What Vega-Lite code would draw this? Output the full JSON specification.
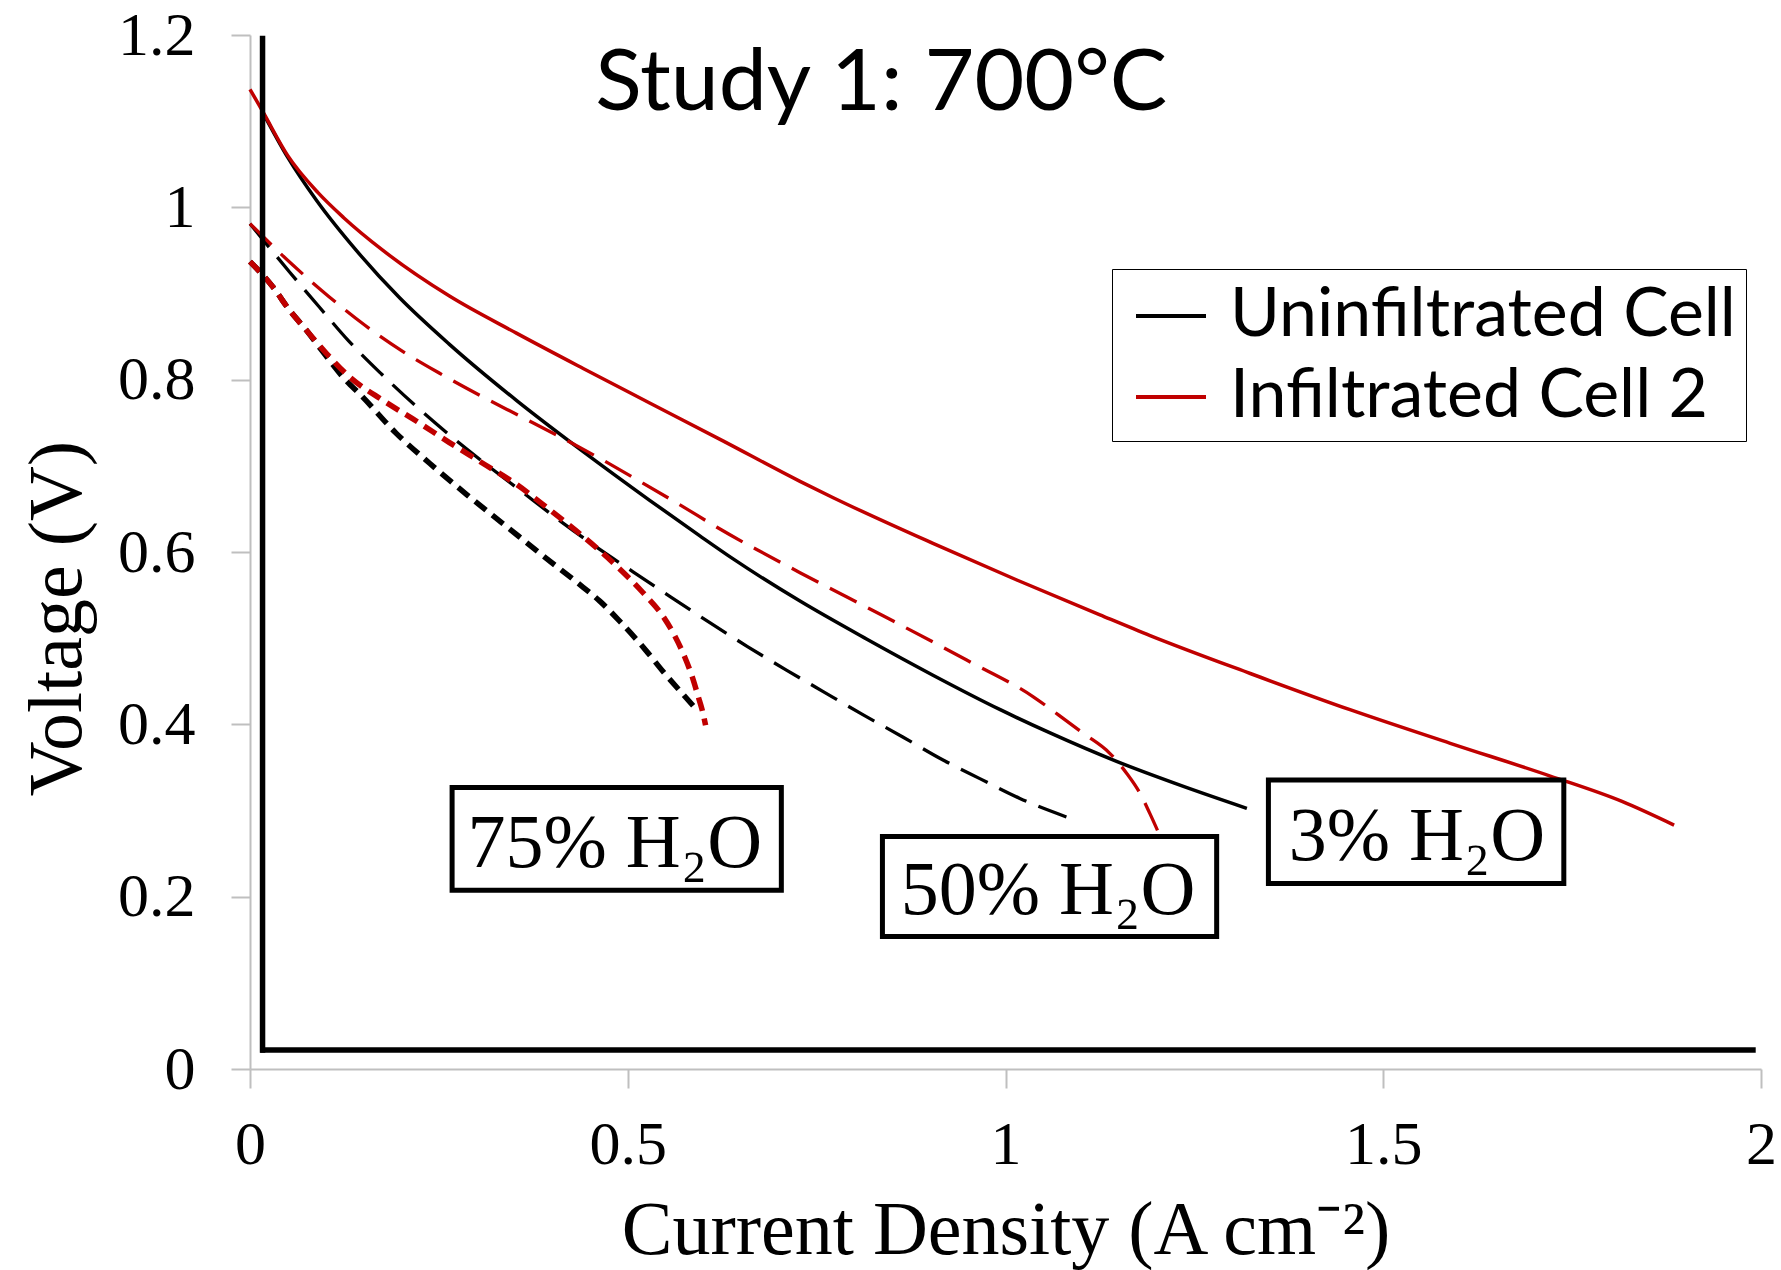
{
  "$schema": "https://vega.github.io/schema/vega-lite/v6.json",
  "width": 1511,
  "height": 1034,
  "autosize": {"type": "none"},
  "padding": {"left": 250, "top": 35, "right": 20, "bottom": 201},
  "background": "white",
  "config": {"view": {"stroke": null}, "axis": {"grid": false}},
  "datasets": {
    "curves": [
      {"cell": "Uninfiltrated Cell", "water": "3%", "i": 0, "x": 0.017, "y": 1.110},
      {"cell": "Uninfiltrated Cell", "water": "3%", "i": 1, "x": 0.05, "y": 1.058},
      {"cell": "Uninfiltrated Cell", "water": "3%", "i": 2, "x": 0.0877, "y": 1.0085},
      {"cell": "Uninfiltrated Cell", "water": "3%", "i": 3, "x": 0.1407, "y": 0.950},
      {"cell": "Uninfiltrated Cell", "water": "3%", "i": 4, "x": 0.198, "y": 0.895},
      {"cell": "Uninfiltrated Cell", "water": "3%", "i": 5, "x": 0.264, "y": 0.841},
      {"cell": "Uninfiltrated Cell", "water": "3%", "i": 6, "x": 0.3526, "y": 0.776},
      {"cell": "Uninfiltrated Cell", "water": "3%", "i": 7, "x": 0.441, "y": 0.7165},
      {"cell": "Uninfiltrated Cell", "water": "3%", "i": 8, "x": 0.529, "y": 0.660},
      {"cell": "Uninfiltrated Cell", "water": "3%", "i": 9, "x": 0.595, "y": 0.619},
      {"cell": "Uninfiltrated Cell", "water": "3%", "i": 10, "x": 0.6395, "y": 0.592},
      {"cell": "Uninfiltrated Cell", "water": "3%", "i": 11, "x": 0.728, "y": 0.543},
      {"cell": "Uninfiltrated Cell", "water": "3%", "i": 12, "x": 0.816, "y": 0.499},
      {"cell": "Uninfiltrated Cell", "water": "3%", "i": 13, "x": 0.904, "y": 0.457},
      {"cell": "Uninfiltrated Cell", "water": "3%", "i": 14, "x": 0.993, "y": 0.417},
      {"cell": "Uninfiltrated Cell", "water": "3%", "i": 15, "x": 1.059, "y": 0.390},
      {"cell": "Uninfiltrated Cell", "water": "3%", "i": 16, "x": 1.147, "y": 0.357},
      {"cell": "Uninfiltrated Cell", "water": "3%", "i": 17, "x": 1.2355, "y": 0.328},
      {"cell": "Uninfiltrated Cell", "water": "3%", "i": 18, "x": 1.3195, "y": 0.3025},

      {"cell": "Infiltrated Cell 2", "water": "3%", "i": 0, "x": 0.0, "y": 1.137},
      {"cell": "Infiltrated Cell 2", "water": "3%", "i": 1, "x": 0.017, "y": 1.111},
      {"cell": "Infiltrated Cell 2", "water": "3%", "i": 2, "x": 0.05, "y": 1.060},
      {"cell": "Infiltrated Cell 2", "water": "3%", "i": 3, "x": 0.09, "y": 1.017},
      {"cell": "Infiltrated Cell 2", "water": "3%", "i": 4, "x": 0.124, "y": 0.988},
      {"cell": "Infiltrated Cell 2", "water": "3%", "i": 5, "x": 0.176, "y": 0.950},
      {"cell": "Infiltrated Cell 2", "water": "3%", "i": 6, "x": 0.264, "y": 0.897},
      {"cell": "Infiltrated Cell 2", "water": "3%", "i": 7, "x": 0.3526, "y": 0.854},
      {"cell": "Infiltrated Cell 2", "water": "3%", "i": 8, "x": 0.441, "y": 0.813},
      {"cell": "Infiltrated Cell 2", "water": "3%", "i": 9, "x": 0.529, "y": 0.773},
      {"cell": "Infiltrated Cell 2", "water": "3%", "i": 10, "x": 0.626, "y": 0.729},
      {"cell": "Infiltrated Cell 2", "water": "3%", "i": 11, "x": 0.728, "y": 0.682},
      {"cell": "Infiltrated Cell 2", "water": "3%", "i": 12, "x": 0.772, "y": 0.663},
      {"cell": "Infiltrated Cell 2", "water": "3%", "i": 13, "x": 0.904, "y": 0.610},
      {"cell": "Infiltrated Cell 2", "water": "3%", "i": 14, "x": 1.015, "y": 0.5675},
      {"cell": "Infiltrated Cell 2", "water": "3%", "i": 15, "x": 1.125, "y": 0.527},
      {"cell": "Infiltrated Cell 2", "water": "3%", "i": 16, "x": 1.1914, "y": 0.503},
      {"cell": "Infiltrated Cell 2", "water": "3%", "i": 17, "x": 1.324, "y": 0.459},
      {"cell": "Infiltrated Cell 2", "water": "3%", "i": 18, "x": 1.456, "y": 0.417},
      {"cell": "Infiltrated Cell 2", "water": "3%", "i": 19, "x": 1.5887, "y": 0.378},
      {"cell": "Infiltrated Cell 2", "water": "3%", "i": 20, "x": 1.721, "y": 0.340},
      {"cell": "Infiltrated Cell 2", "water": "3%", "i": 21, "x": 1.816, "y": 0.3105},
      {"cell": "Infiltrated Cell 2", "water": "3%", "i": 22, "x": 1.885, "y": 0.283},

      {"cell": "Uninfiltrated Cell", "water": "50%", "i": 0, "x": 0.0, "y": 0.981},
      {"cell": "Uninfiltrated Cell", "water": "50%", "i": 1, "x": 0.0523, "y": 0.925},
      {"cell": "Uninfiltrated Cell", "water": "50%", "i": 2, "x": 0.092, "y": 0.884},
      {"cell": "Uninfiltrated Cell", "water": "50%", "i": 3, "x": 0.1305, "y": 0.845},
      {"cell": "Uninfiltrated Cell", "water": "50%", "i": 4, "x": 0.174, "y": 0.8066},
      {"cell": "Uninfiltrated Cell", "water": "50%", "i": 5, "x": 0.218, "y": 0.7706},
      {"cell": "Uninfiltrated Cell", "water": "50%", "i": 6, "x": 0.264, "y": 0.7358},
      {"cell": "Uninfiltrated Cell", "water": "50%", "i": 7, "x": 0.308, "y": 0.7048},
      {"cell": "Uninfiltrated Cell", "water": "50%", "i": 8, "x": 0.3613, "y": 0.669},
      {"cell": "Uninfiltrated Cell", "water": "50%", "i": 9, "x": 0.413, "y": 0.6344},
      {"cell": "Uninfiltrated Cell", "water": "50%", "i": 10, "x": 0.463, "y": 0.603},
      {"cell": "Uninfiltrated Cell", "water": "50%", "i": 11, "x": 0.507, "y": 0.577},
      {"cell": "Uninfiltrated Cell", "water": "50%", "i": 12, "x": 0.5566, "y": 0.548},
      {"cell": "Uninfiltrated Cell", "water": "50%", "i": 13, "x": 0.6086, "y": 0.518},
      {"cell": "Uninfiltrated Cell", "water": "50%", "i": 14, "x": 0.659, "y": 0.490},
      {"cell": "Uninfiltrated Cell", "water": "50%", "i": 15, "x": 0.710, "y": 0.463},
      {"cell": "Uninfiltrated Cell", "water": "50%", "i": 16, "x": 0.7587, "y": 0.438},
      {"cell": "Uninfiltrated Cell", "water": "50%", "i": 17, "x": 0.8117, "y": 0.411},
      {"cell": "Uninfiltrated Cell", "water": "50%", "i": 18, "x": 0.8646, "y": 0.385},
      {"cell": "Uninfiltrated Cell", "water": "50%", "i": 19, "x": 0.913, "y": 0.3606},
      {"cell": "Uninfiltrated Cell", "water": "50%", "i": 20, "x": 0.966, "y": 0.337},
      {"cell": "Uninfiltrated Cell", "water": "50%", "i": 21, "x": 1.019, "y": 0.314},
      {"cell": "Uninfiltrated Cell", "water": "50%", "i": 22, "x": 1.0854, "y": 0.291},

      {"cell": "Infiltrated Cell 2", "water": "50%", "i": 0, "x": 0.0, "y": 0.981},
      {"cell": "Infiltrated Cell 2", "water": "50%", "i": 1, "x": 0.0567, "y": 0.933},
      {"cell": "Infiltrated Cell 2", "water": "50%", "i": 2, "x": 0.105, "y": 0.896},
      {"cell": "Infiltrated Cell 2", "water": "50%", "i": 3, "x": 0.1517, "y": 0.8634},
      {"cell": "Infiltrated Cell 2", "water": "50%", "i": 4, "x": 0.200, "y": 0.834},
      {"cell": "Infiltrated Cell 2", "water": "50%", "i": 5, "x": 0.251, "y": 0.8074},
      {"cell": "Infiltrated Cell 2", "water": "50%", "i": 6, "x": 0.308, "y": 0.780},
      {"cell": "Infiltrated Cell 2", "water": "50%", "i": 7, "x": 0.359, "y": 0.757},
      {"cell": "Infiltrated Cell 2", "water": "50%", "i": 8, "x": 0.414, "y": 0.732},
      {"cell": "Infiltrated Cell 2", "water": "50%", "i": 9, "x": 0.467, "y": 0.7067},
      {"cell": "Infiltrated Cell 2", "water": "50%", "i": 10, "x": 0.520, "y": 0.680},
      {"cell": "Infiltrated Cell 2", "water": "50%", "i": 11, "x": 0.573, "y": 0.6526},
      {"cell": "Infiltrated Cell 2", "water": "50%", "i": 12, "x": 0.6175, "y": 0.629},
      {"cell": "Infiltrated Cell 2", "water": "50%", "i": 13, "x": 0.728, "y": 0.576},
      {"cell": "Infiltrated Cell 2", "water": "50%", "i": 14, "x": 0.838, "y": 0.526},
      {"cell": "Infiltrated Cell 2", "water": "50%", "i": 15, "x": 0.9486, "y": 0.4746},
      {"cell": "Infiltrated Cell 2", "water": "50%", "i": 16, "x": 1.0368, "y": 0.432},
      {"cell": "Infiltrated Cell 2", "water": "50%", "i": 17, "x": 1.07, "y": 0.411},
      {"cell": "Infiltrated Cell 2", "water": "50%", "i": 18, "x": 1.103, "y": 0.3896},
      {"cell": "Infiltrated Cell 2", "water": "50%", "i": 19, "x": 1.138, "y": 0.3664},
      {"cell": "Infiltrated Cell 2", "water": "50%", "i": 20, "x": 1.1605, "y": 0.343},
      {"cell": "Infiltrated Cell 2", "water": "50%", "i": 21, "x": 1.178, "y": 0.320},
      {"cell": "Infiltrated Cell 2", "water": "50%", "i": 22, "x": 1.191, "y": 0.2967},
      {"cell": "Infiltrated Cell 2", "water": "50%", "i": 23, "x": 1.202, "y": 0.2754},

      {"cell": "Uninfiltrated Cell", "water": "75%", "i": 0, "x": 0.0, "y": 0.937},
      {"cell": "Uninfiltrated Cell", "water": "75%", "i": 1, "x": 0.030, "y": 0.908},
      {"cell": "Uninfiltrated Cell", "water": "75%", "i": 2, "x": 0.052, "y": 0.881},
      {"cell": "Uninfiltrated Cell", "water": "75%", "i": 3, "x": 0.0744, "y": 0.8576},
      {"cell": "Uninfiltrated Cell", "water": "75%", "i": 4, "x": 0.095, "y": 0.834},
      {"cell": "Uninfiltrated Cell", "water": "75%", "i": 5, "x": 0.123, "y": 0.803},
      {"cell": "Uninfiltrated Cell", "water": "75%", "i": 6, "x": 0.149, "y": 0.780},
      {"cell": "Uninfiltrated Cell", "water": "75%", "i": 7, "x": 0.1936, "y": 0.7377},
      {"cell": "Uninfiltrated Cell", "water": "75%", "i": 8, "x": 0.2377, "y": 0.703},
      {"cell": "Uninfiltrated Cell", "water": "75%", "i": 9, "x": 0.2864, "y": 0.667},
      {"cell": "Uninfiltrated Cell", "water": "75%", "i": 10, "x": 0.339, "y": 0.630},
      {"cell": "Uninfiltrated Cell", "water": "75%", "i": 11, "x": 0.388, "y": 0.5955},
      {"cell": "Uninfiltrated Cell", "water": "75%", "i": 12, "x": 0.441, "y": 0.559},
      {"cell": "Uninfiltrated Cell", "water": "75%", "i": 13, "x": 0.463, "y": 0.543},
      {"cell": "Uninfiltrated Cell", "water": "75%", "i": 14, "x": 0.489, "y": 0.520},
      {"cell": "Uninfiltrated Cell", "water": "75%", "i": 15, "x": 0.5248, "y": 0.485},
      {"cell": "Uninfiltrated Cell", "water": "75%", "i": 16, "x": 0.547, "y": 0.461},
      {"cell": "Uninfiltrated Cell", "water": "75%", "i": 17, "x": 0.573, "y": 0.435},
      {"cell": "Uninfiltrated Cell", "water": "75%", "i": 18, "x": 0.5887, "y": 0.4195},

      {"cell": "Infiltrated Cell 2", "water": "75%", "i": 0, "x": 0.0, "y": 0.937},
      {"cell": "Infiltrated Cell 2", "water": "75%", "i": 1, "x": 0.030, "y": 0.908},
      {"cell": "Infiltrated Cell 2", "water": "75%", "i": 2, "x": 0.052, "y": 0.881},
      {"cell": "Infiltrated Cell 2", "water": "75%", "i": 3, "x": 0.0744, "y": 0.8576},
      {"cell": "Infiltrated Cell 2", "water": "75%", "i": 4, "x": 0.101, "y": 0.8306},
      {"cell": "Infiltrated Cell 2", "water": "75%", "i": 5, "x": 0.132, "y": 0.803},
      {"cell": "Infiltrated Cell 2", "water": "75%", "i": 6, "x": 0.176, "y": 0.776},
      {"cell": "Infiltrated Cell 2", "water": "75%", "i": 7, "x": 0.220, "y": 0.752},
      {"cell": "Infiltrated Cell 2", "water": "75%", "i": 8, "x": 0.264, "y": 0.727},
      {"cell": "Infiltrated Cell 2", "water": "75%", "i": 9, "x": 0.308, "y": 0.703},
      {"cell": "Infiltrated Cell 2", "water": "75%", "i": 10, "x": 0.3526, "y": 0.6785},
      {"cell": "Infiltrated Cell 2", "water": "75%", "i": 11, "x": 0.3967, "y": 0.649},
      {"cell": "Infiltrated Cell 2", "water": "75%", "i": 12, "x": 0.441, "y": 0.618},
      {"cell": "Infiltrated Cell 2", "water": "75%", "i": 13, "x": 0.485, "y": 0.584},
      {"cell": "Infiltrated Cell 2", "water": "75%", "i": 14, "x": 0.520, "y": 0.553},
      {"cell": "Infiltrated Cell 2", "water": "75%", "i": 15, "x": 0.547, "y": 0.525},
      {"cell": "Infiltrated Cell 2", "water": "75%", "i": 16, "x": 0.562, "y": 0.503},
      {"cell": "Infiltrated Cell 2", "water": "75%", "i": 17, "x": 0.575, "y": 0.479},
      {"cell": "Infiltrated Cell 2", "water": "75%", "i": 18, "x": 0.585, "y": 0.456},
      {"cell": "Infiltrated Cell 2", "water": "75%", "i": 19, "x": 0.593, "y": 0.433},
      {"cell": "Infiltrated Cell 2", "water": "75%", "i": 20, "x": 0.599, "y": 0.415},
      {"cell": "Infiltrated Cell 2", "water": "75%", "i": 21, "x": 0.603, "y": 0.399}
    ],
    "frame": [
      {"x": 0.0166, "x2": 0.0166, "y": 0.019, "y2": 1.199},
      {"x": 0.0135, "x2": 1.993, "y": 0.022, "y2": 0.022}
    ],
    "boxes": [
      {"x": 0.2675, "x2": 0.7033, "y": 0.3267, "y2": 0.2075, "label": "75% H₂O", "lx": 0.4828, "ly": 0.2348},
      {"x": 0.8371, "x2": 1.2795, "y": 0.2699, "y2": 0.1537, "label": "50% H₂O", "lx": 1.0563, "ly": 0.1801},
      {"x": 1.348, "x2": 1.739, "y": 0.3354, "y2": 0.2153, "label": "3% H₂O", "lx": 1.5446, "ly": 0.2425}
    ],
    "heading": [
      {"x": 0.8355, "y": 1.1129, "label": "Study 1: 700°C"}
    ]
  },
  "encoding": {
    "x": {
      "field": "x", "type": "quantitative",
      "scale": {"domain": [0, 2], "nice": false, "zero": false},
      "axis": {
        "title": "Current Density (A cm⁻²)",
        "values": [0, 0.5, 1, 1.5, 2], "format": "~g",
        "domainColor": "#BFBFBF", "domainWidth": 2,
        "tickColor": "#BFBFBF", "tickWidth": 2, "tickSize": 19,
        "labelFont": "Liberation Serif", "labelFontSize": 62, "labelColor": "black",
        "labelBaseline": "alphabetic", "labelPadding": 75,
        "labelFlush": false, "labelOverlap": false,
        "titleFont": "Liberation Serif", "titleFontSize": 76, "titleFontWeight": "normal",
        "titleColor": "black", "titleBaseline": "alphabetic", "titleY": 184
      }
    },
    "y": {
      "field": "y", "type": "quantitative",
      "scale": {"domain": [0, 1.2], "nice": false, "zero": false},
      "axis": {
        "title": "Voltage (V)",
        "values": [0, 0.2, 0.4, 0.6, 0.8, 1, 1.2], "format": "~g",
        "domainColor": "#BFBFBF", "domainWidth": 2,
        "tickColor": "#BFBFBF", "tickWidth": 2, "tickSize": 19,
        "labelFont": "Liberation Serif", "labelFontSize": 62, "labelColor": "black",
        "labelBaseline": "middle", "labelPadding": 36,
        "labelFlush": false, "labelOverlap": false,
        "titleFont": "Liberation Serif", "titleFontSize": 76, "titleFontWeight": "normal",
        "titleColor": "black", "titleBaseline": "alphabetic", "titleAngle": 270,
        "titleX": -170, "titleY": 583
      }
    }
  },
  "layer": [
    {
      "data": {"name": "curves"},
      "transform": [{"filter": "datum.water === '3%'"}],
      "mark": {"type": "line", "strokeWidth": 3.5, "interpolate": "monotone"},
      "encoding": {
        "order": {"field": "i", "type": "quantitative"},
        "color": {
          "field": "cell", "type": "nominal",
          "scale": {"domain": ["Uninfiltrated Cell", "Infiltrated Cell 2"], "range": ["#000000", "#C00000"]},
          "legend": {
            "orient": "none", "legendX": 862, "legendY": 234, "title": null,
            "symbolType": "stroke", "symbolSize": 4900, "symbolStrokeWidth": 4,
            "labelFont": "Lato", "labelFontSize": 68, "labelColor": "black",
            "labelOffset": 22, "rowPadding": 10, "padding": 10, "symbolOffset": 12,
            "strokeColor": "black", "fillColor": "white", "labelLimit": 0
          }
        }
      }
    },
    {
      "data": {"name": "curves"},
      "transform": [{"filter": "datum.water === '50%'"}],
      "mark": {"type": "line", "strokeWidth": 3.3, "strokeDash": [30, 13], "interpolate": "monotone"},
      "encoding": {
        "order": {"field": "i", "type": "quantitative"},
        "color": {"field": "cell", "type": "nominal"}
      }
    },
    {
      "data": {"name": "curves"},
      "transform": [{"filter": "datum.water === '75%'"}],
      "mark": {"type": "line", "strokeWidth": 5.5, "strokeDash": [14, 8], "interpolate": "monotone"},
      "encoding": {
        "order": {"field": "i", "type": "quantitative"},
        "color": {"field": "cell", "type": "nominal"}
      }
    },
    {
      "data": {"name": "frame"},
      "mark": {"type": "rule", "color": "black", "strokeWidth": 5.5},
      "encoding": {
        "x2": {"field": "x2"},
        "y2": {"field": "y2"}
      }
    },
    {
      "data": {"name": "boxes"},
      "mark": {"type": "rect", "fill": "white", "stroke": "black", "strokeWidth": 5},
      "encoding": {
        "x2": {"field": "x2"},
        "y2": {"field": "y2"}
      }
    },
    {
      "data": {"name": "boxes"},
      "mark": {"type": "text", "font": "Liberation Serif", "fontSize": 76, "baseline": "alphabetic", "align": "center", "color": "black"},
      "encoding": {
        "x": {"field": "lx", "type": "quantitative"},
        "y": {"field": "ly", "type": "quantitative"},
        "text": {"field": "label"}
      }
    },
    {
      "data": {"name": "heading"},
      "mark": {"type": "text", "font": "Lato", "fontSize": 86, "baseline": "alphabetic", "align": "center", "color": "black"},
      "encoding": {
        "text": {"field": "label"}
      }
    }
  ]
}
